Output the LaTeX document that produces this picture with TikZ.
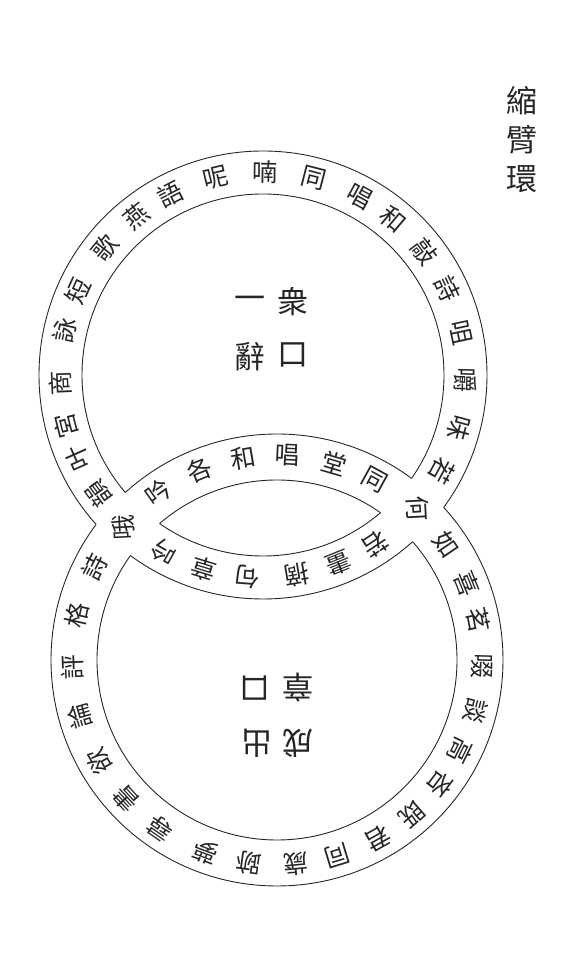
\documentclass[tikz,border=0pt]{standalone}
\usepackage{fontspec}
\newfontfamily\cjk{Noto Sans CJK TC}
\begin{document}
\begin{tikzpicture}[x=1pt, y=1pt,
    ring/.style={line width=0.9pt, black!85},
    zi/.style={font=\cjk\fontsize{25}{25}\selectfont, black!85, inner sep=0pt},
    mid/.style={font=\cjk\fontsize{31}{31}\selectfont, black!85, inner sep=0pt},
    title/.style={font=\cjk\fontsize{31}{39}\selectfont, black!85, align=center, inner sep=0pt}]
\useasboundingbox (0,0) rectangle (580,978);
\coordinate (C1) at (263,603);
\coordinate (C2) at (277,318);
% upper ring, cut where the lower ring passes
\begin{scope}[even odd rule]
  \clip (0,0) rectangle (580,978) (C2) circle[radius=226] (C2) circle[radius=180];
  \draw[ring] (C1) circle[radius=224] (C1) circle[radius=181];
\end{scope}
% lower ring
\begin{scope}[even odd rule]
  \clip (0,0) rectangle (580,978) (C1) circle[radius=224] (C1) circle[radius=181];
  \draw[ring] (C2) circle[radius=226] (C2) circle[radius=180];
\end{scope}
\node[title] (title) at (522,838) {縮\\臂\\環};
\node[mid] (yi) at (250,675) {一};
\node[mid] (zhong) at (293,676) {衆};
\node[mid] (ci) at (250,621) {辭};
\node[mid] (kou) at (293,623) {口};
\node[mid, rotate=180] (kouB) at (255,290) {口};
\node[mid, rotate=180] (zhang) at (298,290) {章};
\node[mid, rotate=180] (chu) at (257,235) {出};
\node[mid, rotate=180] (cheng) at (298,235) {成};
% words round the upper ring
\foreach \a/\c [count=\i] in {155.6/短, 141.2/歌, 128.5/燕, 117.1/語, 103.5/呢, 89.4/喃, 75.6/同,
    61.4/唱, 50/和, 37.3/敲, 25/詩, 12/咀, -1.4/嚼, -15.2/味, -28.2/若, -56.3/若, -68.1/畫,
    -80.5/摘, -94.4/句, -107.1/章, -119.3/吟, -144/韻, -155.9/叶, -165.6/宮, -177.7/商, 167.4/詠}
  \node[zi, rotate=\a-90] (u\i) at ([shift={(\a:203)}]C1) {\c};
% words round the lower ring
\foreach \a/\c [count=\i] in {125.3/吟, 112.1/各, 99.6/和, 87/唱, 73.7/堂, 61.4/同, 34.2/如,
    22/喜, 11.2/茗, -1.7/啜, -14.3/談, -26.2/高, -37.2/吝, -48.7/既, -60.6/君, -73/同,
    -84.8/歲, -97.9/跡, -110.4/夢, -124.7/尋, -137.5/書, -150.4/欲, -164/論, -178/評,
    167.4/格, 152.9/詩}
  \node[zi, rotate=\a-90] (d\i) at ([shift={(\a:205)}]C2) {\c};
% shared where the rings cross
\node[zi, rotate=-87] (he) at (418,470) {何};
\node[zi, rotate=93] (e) at (123,450) {哦};
\end{tikzpicture}
\end{document}
